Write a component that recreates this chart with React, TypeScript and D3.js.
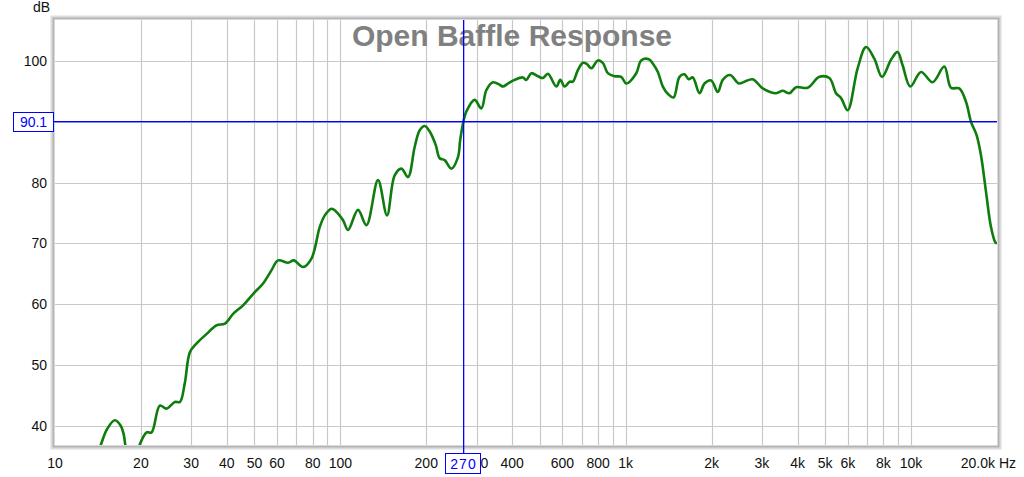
import React from "react";
import * as d3 from "d3";

const freqHz = [
  13.8, 14.4, 15.2, 16.2, 17.0, 17.4, 17.7, 18.2, 18.8, 19.3, 19.7, 20.95, 21.8, 23.3, 24.6, 26.3, 27.4, 28.5, 29.7,
  31.3, 34.0, 36.8, 39.4, 42.1, 45.6, 49.5, 53.6, 57.4, 60.5, 65.6, 68.7, 74.0, 79.2, 84.7, 88.2, 93.1, 96.3,
  102.2, 106.4, 115.3, 123.4, 135.5, 145.7, 155.0, 163.7, 172.6, 182.2, 189.7, 197.5, 205.6, 215.8, 222.8, 232.0,
  244.9, 258.3, 263, 270, 276.4, 295.5, 311.9, 324.8, 342.5, 361.5, 371.3, 386.6, 407.9, 436.2, 448.3, 467.0,
  492.4, 512.7, 533.7, 571.1, 589.8, 610.6, 636.0, 652.9, 679.7, 707.7, 730.9, 757.3, 798.6, 831.4, 865.6, 913.6,
  964.6, 1004, 1089, 1133, 1205, 1244, 1296, 1349, 1405, 1471, 1543, 1607, 1663, 1718, 1814, 1888, 1993, 2102,
  2188, 2322, 2489, 2606, 2786, 3020, 3365, 3548, 3746, 3954, 4341, 4771, 5171, 5458, 5684, 5995, 6496, 6952,
  7432, 7910, 8503, 8968, 9338, 9936, 10832, 11894, 13071, 13799, 14752, 15574, 16216, 16963, 17575, 18298,
  19049, 19716, 20000,
];

const levelDb = [
  34.8, 36.6, 39.4, 40.9, 40.0, 38.6, 36.4, 34.4, 33.8, 35.0, 36.6, 38.9, 38.9, 43.3, 42.8, 43.9, 43.9, 47.0, 52.1,
  53.5, 55.1, 56.5, 56.8, 58.4, 59.8, 61.7, 63.4, 65.6, 67.2, 66.8, 67.2, 66.1, 67.5, 72.7, 74.6, 75.7, 75.3,
  73.8, 72.2, 75.5, 73.0, 80.4, 74.6, 81.2, 82.3, 80.9, 85.9, 88.6, 89.3, 88.4, 86.2, 84.0, 83.7,
  82.3, 84.2, 87.0, 90.1, 91.7, 93.6, 92.2, 95.2, 96.5, 96.1, 95.8, 96.3, 96.9, 97.3, 96.9, 98.0,
  97.5, 97.2, 97.9, 95.8, 96.9, 95.8, 96.6, 96.6, 98.5, 99.7, 99.5, 98.8, 100.1, 99.7, 98.0, 97.5,
  97.4, 96.3, 98.0, 100.1, 100.3, 99.6, 98.2, 95.8, 94.6, 94.0, 97.4, 97.8, 97.0, 97.3, 94.7, 96.3, 96.8, 94.9,
  96.9, 97.7, 96.3, 96.6, 97.0, 95.5, 94.7, 95.1, 94.7, 95.7, 95.6, 97.4, 97.2, 94.7, 93.9, 91.9, 98.8, 102.3,
  100.4, 97.4, 100.2, 101.5, 99.3, 95.8, 98.2, 96.5, 99.1, 95.6, 95.5, 93.3, 90.0, 87.8, 84.5, 78.5,
  72.7, 70.2, 70.0,
];

const xTickValues = [10, 20, 30, 40, 50, 60, 80, 100, 200, 300, 400, 600, 800, 1000, 2000, 3000, 4000, 5000, 6000, 8000, 10000];
const xTickLabels = ["10", "20", "30", "40", "50", "60", "80", "100", "200", "300", "400", "600", "800", "1k", "2k", "3k", "4k", "5k", "6k", "8k", "10k"];
const xGridValues = [
  20, 30, 40, 50, 60, 70, 80, 90, 100, 200, 300, 400, 500, 600, 700, 800, 900, 1000,
  2000, 3000, 4000, 5000, 6000, 7000, 8000, 9000, 10000,
];
const yTickValues = [40, 50, 60, 70, 80, 100];
const yGridValues = [40, 50, 60, 70, 80, 90, 100];

const titleText = "Open Baffle Response";
const cursorFreq = 270;
const cursorDb = 90.1;

const FONT = "'Liberation Sans', Arial, sans-serif";
const BLUE = "rgb(0,0,255)";

export default function App() {
  const left = 55, right = 997, top = 20, bottom = 445;
  const x = d3.scaleLog().domain([10, 20000]).range([left, right]);
  const y = d3.scaleLinear().domain([36.82, 106.75]).range([bottom, top]);

  const pts: [number, number][] = freqHz.map((f, i) => [x(f), y(levelDb[i])]);
  const line = d3.line().curve(d3.curveCatmullRom.alpha(0.5))(pts) || "";

  const cx = Math.round(x(cursorFreq));
  const cy = Math.round(y(cursorDb));

  return (
    <svg width={1024} height={477} style={{ position: "absolute", left: 0, top: 0, background: "#fff" }} fontFamily={FONT}>
      <defs>
        <clipPath id="plotclip">
          <rect x={left} y={top} width={right - left} height={bottom - top} />
        </clipPath>
      </defs>
      <rect x={0} y={0} width={1024} height={477} fill="#fff" />
      {/* frame with shadow */}
      <rect x={left - 3} y={top - 3} width={right - left + 6} height={bottom - top + 6} fill="none" stroke="#dcdcdc" strokeWidth={3} />
      <rect x={left - 1.5} y={top - 1.5} width={right - left + 3} height={bottom - top + 3} fill="none" stroke="#b4b4b4" strokeWidth={2} />
      <rect x={left} y={top} width={right - left} height={bottom - top} fill="#fff" />
      {/* grid */}
      {xGridValues.map((v) => (
        <line key={"gx" + v} x1={Math.round(x(v)) + 0.5} x2={Math.round(x(v)) + 0.5} y1={top} y2={bottom} stroke="#c8c8c8" strokeWidth={1.2} />
      ))}
      {yGridValues.map((v) => (
        <line key={"gy" + v} x1={left} x2={right} y1={Math.round(y(v)) + 0.5} y2={Math.round(y(v)) + 0.5} stroke="#c8c8c8" strokeWidth={1.2} />
      ))}
      {/* title */}
      <text x={512} y={46} textAnchor="middle" fontSize={30} fontWeight="bold" fill="#808080">
        {titleText}
      </text>
      {/* curve */}
      <g clipPath="url(#plotclip)">
        <path d={line} fill="none" stroke="#0e7d0e" strokeWidth={2.6} strokeLinejoin="round" />
      </g>
      {/* y labels */}
      <text x={50} y={12} textAnchor="end" fontSize={14} fill="#111">dB</text>
      {yTickValues.map((v) => (
        <text key={"yl" + v} x={47} y={y(v) + 5} textAnchor="end" fontSize={14} fill="#111">
          {v}
        </text>
      ))}
      {/* x labels */}
      {xTickValues.map((v, i) => (
        <text key={"xl" + v} x={x(v)} y={468} textAnchor="middle" fontSize={14} fill="#111">
          {xTickLabels[i]}
        </text>
      ))}
      <text x={995} y={468} textAnchor="end" fontSize={14} fill="#111">20.0k</text>
      <text x={999} y={468} textAnchor="start" fontSize={14} fill="#111">Hz</text>
      {/* cursor */}
      <rect x={cx} y={top} width={1.3} height={453 - top} fill={BLUE} />
      <rect x={53} y={cy} width={right - 53} height={1.3} fill={BLUE} />
      <rect x={13.5} y={112.5} width={40} height={19} fill="#fff" stroke={BLUE} strokeWidth={1} />
      <text x={33.5} y={127} textAnchor="middle" fontSize={14} fill={BLUE}>{cursorDb.toFixed(1)}</text>
      <rect x={cx - 17.5} y={453.5} width={35} height={20} fill="#fff" stroke={BLUE} strokeWidth={1} />
      <text x={cx + 0.5} y={468.5} textAnchor="middle" fontSize={14} fill={BLUE} letterSpacing={1}>{cursorFreq}</text>
    </svg>
  );
}
